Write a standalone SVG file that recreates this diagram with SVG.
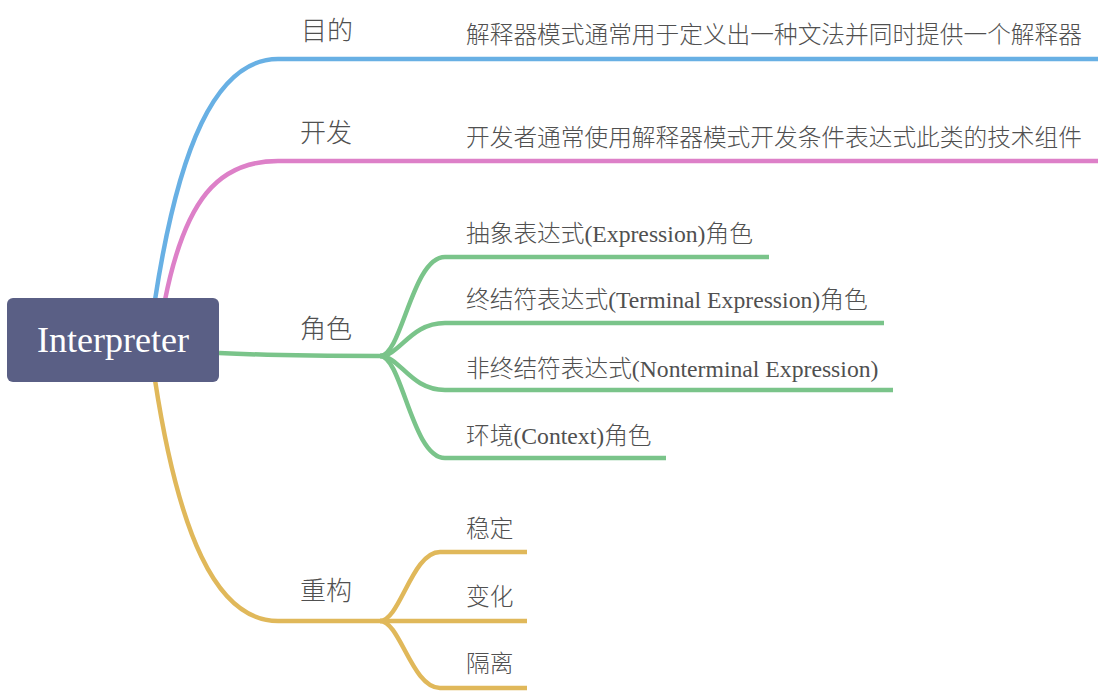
<svg xmlns="http://www.w3.org/2000/svg" width="1104" height="692" viewBox="0 0 1104 692">
<style>
.c{fill:none;stroke-width:4.5;stroke-linecap:butt}
.b{stroke:#68b0e4}.p{stroke:#dd80c8}.g{stroke:#7ac48a}.y{stroke:#e0b85a}
.t{font-family:"Liberation Serif","Noto Sans CJK SC",serif;fill:#505050;font-weight:300}
.m{font-size:26px}
.s{font-size:23.7px}
</style>
<rect width="1104" height="692" fill="#ffffff"/>
<g id="connectors">
<path class="c b" d="M155,300 C178,150 215,59 278,59 L1098,59"/>
<path class="c p" d="M165,300 C185,200 218,161 278,161 L1098,161"/>
<path class="c g" d="M219,353 C260,355 300,356 380,356"/>
<path class="c g" d="M380,356 C402,356 412,257 445,257 L769,257"/>
<path class="c g" d="M380,356 C400,356 410,323 445,323 L884,323"/>
<path class="c g" d="M380,356 C400,356 410,390 445,390 L893,390"/>
<path class="c g" d="M380,356 C402,356 412,458 445,458 L666,458"/>
<path class="c y" d="M155,380 C178,530 215,621 278,621 L380,621"/>
<path class="c y" d="M380,621 C400,621 412,552 440,552 L527,552"/>
<path class="c y" d="M380,621 L527,621"/>
<path class="c y" d="M380,621 C400,621 412,688 440,688 L527,688"/>
</g>
<g id="root">
<rect x="7" y="298" width="212" height="84" rx="6" fill="#5a5f85"/>
<text x="113" y="352" text-anchor="middle" font-family="Liberation Serif,serif" font-size="36" fill="#ffffff">Interpreter</text>
</g>
<g id="purpose"><text class="t m" x="301" y="40">目的</text></g>
<g id="purpose-detail"><text class="t s" x="466" y="43">解释器模式通常用于定义出一种文法并同时提供一个解释器</text></g>
<g id="develop"><text class="t m" x="300" y="142">开发</text></g>
<g id="develop-detail"><text class="t s" x="466" y="146">开发者通常使用解释器模式开发条件表达式此类的技术组件</text></g>
<g id="roles"><text class="t m" x="300" y="338">角色</text></g>
<g id="role-1"><text class="t s" x="466" y="242">抽象表达式(Expression)角色</text></g>
<g id="role-2"><text class="t s" x="466" y="308">终结符表达式(Terminal Expression)角色</text></g>
<g id="role-3"><text class="t s" x="466" y="377">非终结符表达式(Nonterminal Expression)</text></g>
<g id="role-4"><text class="t s" x="466" y="444">环境(Context)角色</text></g>
<g id="refactor"><text class="t m" x="300" y="600">重构</text></g>
<g id="refactor-1"><text class="t s" x="466" y="537">稳定</text></g>
<g id="refactor-2"><text class="t s" x="466" y="605">变化</text></g>
<g id="refactor-3"><text class="t s" x="466" y="672">隔离</text></g>
</svg>
